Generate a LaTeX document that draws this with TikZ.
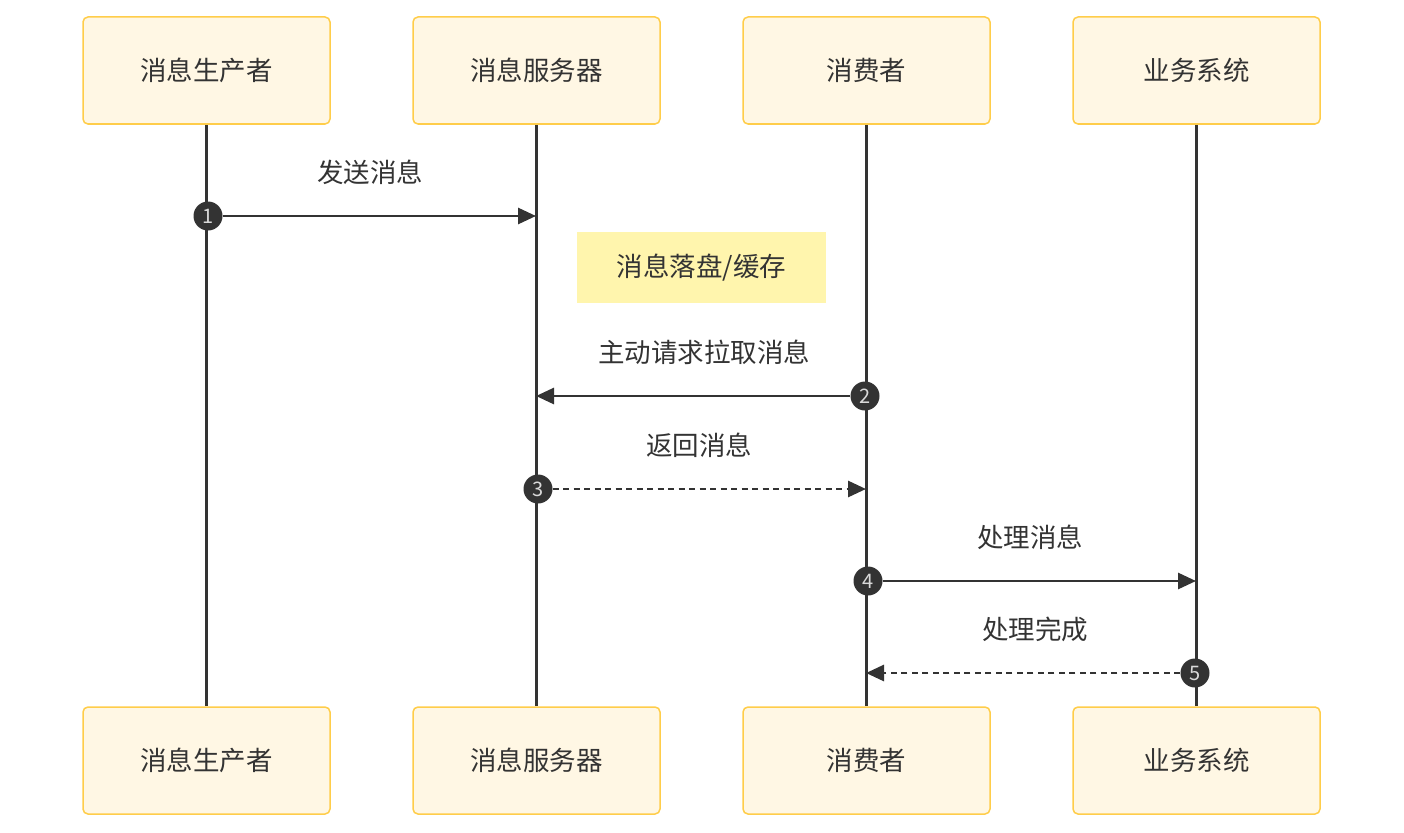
\documentclass[tikz,border=0pt]{standalone}
\usepackage{fontspec}
\setmainfont{Noto Sans CJK SC}
\usetikzlibrary{arrows.meta}
\definecolor{boxfill}{HTML}{FFF7E4}
\definecolor{boxline}{HTML}{FFCD4A}
\definecolor{notefill}{HTML}{FFF5AD}
\definecolor{ink}{HTML}{333333}
\tikzset{
  actor/.style={draw=boxline,fill=boxfill,line width=1.5pt,rounded corners=5pt,minimum width=247pt,minimum height=107pt,inner sep=0pt,text=ink,font=\fontsize{26.5}{30}\selectfont},
  life/.style={draw=ink,line width=3.2pt},
  msg/.style={draw=ink,line width=2.8pt,-{Triangle[length=18pt,width=16pt]}},
  msgd/.style={msg,dash pattern=on 6pt off 4.5pt},
  num/.style={circle,fill=ink,minimum size=29pt,inner sep=0pt,text=white!85!black,font=\fontsize{20}{22}\selectfont},
  lbl/.style={text=ink,font=\fontsize{26.5}{30}\selectfont,inner sep=0pt},
  note/.style={fill=notefill,minimum width=249pt,minimum height=71pt,inner sep=0pt,text=ink,font=\fontsize{26.5}{30}\selectfont}
}
\begin{document}
\begin{tikzpicture}[x=1pt,y=-1pt]
\useasboundingbox (0,0) rectangle (1404,832);
% actors
\node[actor] (a1) at (206.5,70.5) {消息生产者};
\node[actor] (a2) at (536.5,70.5) {消息服务器};
\node[actor] (a3) at (866.5,70.5) {消费者};
\node[actor] (a4) at (1196.5,70.5) {业务系统};
\node[actor] (b1) at (206.5,760.5) {消息生产者};
\node[actor] (b2) at (536.5,760.5) {消息服务器};
\node[actor] (b3) at (866.5,760.5) {消费者};
\node[actor] (b4) at (1196.5,760.5) {业务系统};
% lifelines
\draw[life] (a1.south) -- (b1.north);
\draw[life] (a2.south) -- (b2.north);
\draw[life] (a3.south) -- (b3.north);
\draw[life] (a4.south) -- (b4.north);
% coordinates on lifelines
\coordinate (m1e) at (536,216);
\coordinate (m2e) at (536,396);
\coordinate (m3e) at (866,489);
\coordinate (m4e) at (1196,581);
\coordinate (m5e) at (866,673);
% message 1
\node[num] (n1) at (208,216) {1};
\draw[msg] (n1.east) -- (m1e);
\node[lbl] (l1) at (370,172) {发送消息};
% note
\node[note] (nt) at (701.5,267.5) {消息落盘/缓存};
% message 2
\node[num] (n2) at (865,396) {2};
\draw[msg] (n2.west) -- (m2e);
\node[lbl] (l2) at (704,352) {主动请求拉取消息};
% message 3
\node[num] (n3) at (538,489) {3};
\draw[msgd] (n3.east) -- (m3e);
\node[lbl] (l3) at (699,445) {返回消息};
% message 4
\node[num] (n4) at (868,581) {4};
\draw[msg] (n4.east) -- (m4e);
\node[lbl] (l4) at (1030,537) {处理消息};
% message 5
\node[num] (n5) at (1195,673) {5};
\draw[msgd] (n5.west) -- (m5e);
\node[lbl] (l5) at (1035,629) {处理完成};
\end{tikzpicture}
\end{document}
